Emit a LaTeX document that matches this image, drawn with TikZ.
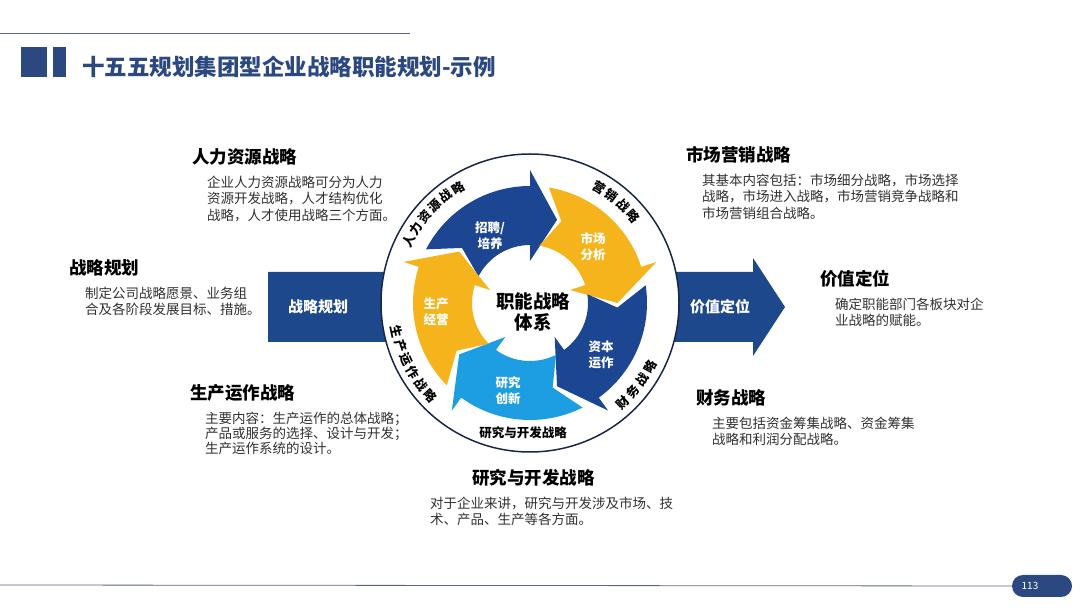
\documentclass[tikz,border=0pt]{standalone}
\usepackage{fontspec}
\setmainfont{Noto Sans CJK SC}
\usepackage{tikz}
\usetikzlibrary{positioning}
\definecolor{navyband}{RGB}{30,72,140}
\definecolor{navyarr}{RGB}{28,70,145}
\definecolor{yellowarr}{RGB}{246,180,28}
\definecolor{lightarr}{RGB}{30,158,226}
\definecolor{titleblue}{RGB}{44,72,128}
\definecolor{ringline}{RGB}{24,38,72}
\definecolor{descgray}{RGB}{48,48,48}
\definecolor{linegray}{RGB}{88,100,128}

% one curved arrow of the cycle, #1 = tail angle, #2 = colour
\newcommand{\cyclearrow}[2]{%
  \pgfmathsetmacro{\ta}{#1-62.7}%
  \pgfmathsetmacro{\tb}{#1-80.7}%
  \pgfmathsetmacro{\tn}{#1-11.7}%
  \fill[#2] (#1:117) arc[start angle=#1, end angle=\ta, radius=117]
    -- (\ta:133) -- (\tb:87.5) -- (\ta:42) -- (\ta:58)
    arc[start angle=\ta, end angle=#1, radius=58] -- (\tn:87.5) -- cycle;}

\begin{document}
\begin{tikzpicture}[
  x=1pt, y=1pt,
  head/.style={anchor=west, inner sep=0pt, text=black,
               font=\bfseries\fontsize{17.5}{20}\selectfont},
  desc/.style={inner sep=0pt, align=left, text=descgray,
               font=\fontsize{13.5}{16.5}\selectfont},
  ringtxt/.style={inner sep=0pt, font=\bfseries\fontsize{12.5}{12.5}\selectfont},
  arrtxt/.style={align=center, inner sep=0pt, text=white,
                 font=\bfseries\fontsize{12.5}{16}\selectfont},
  bandtxt/.style={inner sep=0pt, text=white,
                  font=\bfseries\fontsize{15}{15}\selectfont}
]
\useasboundingbox (0,0) rectangle (1080,608);

% Titel
\draw[linegray, line width=1pt] (0,574) -- (410,574);
\fill[titleblue] (20.5,531) rectangle (46.5,561);
\fill[titleblue] (53,531) rectangle (66,561);
\node[anchor=west, inner sep=0pt, text=titleblue,
      font=\bfseries\fontsize{22.5}{24}\selectfont]
  (title) at (82,541) {十五五规划集团型企业战略职能规划-示例};

% Pfeilband
\fill[navyband] (268,266) -- (268,336) -- (753,336) -- (753,350)
  -- (785,301) -- (753,252) -- (753,266) -- cycle;
\node[bandtxt] (plan) at (318,301) {战略规划};
\node[bandtxt] (value) at (720,301) {价值定位};

% Kreis
\node[circle, draw=ringline, line width=1.5pt, fill=white,
      minimum size=298pt, inner sep=0pt] (ring) at (530,305) {};

\begin{scope}[shift={(ring.center)}]
\cyclearrow{152.7}{navyarr}
\cyclearrow{80.7}{yellowarr}
\cyclearrow{8.7}{navyarr}
\cyclearrow{-63.3}{lightarr}
\cyclearrow{-135.3}{yellowarr}

\foreach \ch [count=\i from 0] in {人,力,资,源,战,略}
  {\pgfmathsetmacro{\a}{153-6.2*\i}
   \node[ringtxt, rotate=\a-90] (hr\i) at (\a:136) {\ch};}
\foreach \ch [count=\i from 0] in {营,销,战,略}
  {\pgfmathsetmacro{\a}{59-6.3*\i}
   \node[ringtxt, rotate=\a-90] (mk\i) at (\a:135) {\ch};}
\foreach \ch [count=\i from 0] in {财,务,战,略}
  {\pgfmathsetmacro{\a}{-47+6.3*\i}
   \node[ringtxt, rotate=\a+90] (fi\i) at (\a:136) {\ch};}
\foreach \ch [count=\i from 0] in {生,产,运,作,战,略}
  {\pgfmathsetmacro{\a}{192+6.2*\i}
   \node[ringtxt, rotate=\a+90] (pr\i) at (\a:136) {\ch};}
\end{scope}
\node[ringtxt] (rdring) at (523,175) {研究与开发战略};

\node[arrtxt] (recruit) at (490,372) {招聘/\\培养};
\node[arrtxt] (market) at (593,361) {市场\\分析};
\node[arrtxt] (capital) at (601,253) {资本\\运作};
\node[arrtxt] (research) at (508,217) {研究\\创新};
\node[arrtxt] (produce) at (436,296) {生产\\经营};
\node[align=center, inner sep=0pt,
      font=\bfseries\fontsize{18.5}{21}\selectfont] (core) at (533,296) {职能战略\\体系};

% Texte
\node[head] (hrhead) at (192,451) {人力资源战略};
\node[desc, below right=10pt and 15pt of hrhead.south west] (hrdesc)
  {企业人力资源战略可分为人力\\资源开发战略，人才结构优化\\战略，人才使用战略三个方面。};

\node[head] (planhead) at (69,340) {战略规划};
\node[desc, below right=10pt and 16pt of planhead.south west] (plandesc)
  {制定公司战略愿景、业务组\\合及各阶段发展目标、措施。};

\node[head] (mkhead) at (686,453) {市场营销战略};
\node[desc, below right=10pt and 16pt of mkhead.south west] (mkdesc)
  {其基本内容包括：市场细分战略，市场选择\\战略，市场进入战略，市场营销竞争战略和\\市场营销组合战略。};

\node[head] (valhead) at (820,329) {价值定位};
\node[desc, below right=10pt and 15pt of valhead.south west] (valdesc)
  {确定职能部门各板块对企\\业战略的赋能。};

\node[head] (prhead) at (190,215) {生产运作战略};
\node[desc, below right=10pt and 15pt of prhead.south west,
      font=\fontsize{13.5}{15}\selectfont] (prdesc)
  {主要内容：生产运作的总体战略；\\产品或服务的选择、设计与开发；\\生产运作系统的设计。};

\node[head] (fihead) at (696,210) {财务战略};
\node[desc, below right=10pt and 16pt of fihead.south west] (fidesc)
  {主要包括资金筹集战略、资金筹集\\战略和利润分配战略。};

\node[head] (rdhead) at (472,130) {研究与开发战略};
\node[desc, below right=10pt and -42pt of rdhead.south west] (rddesc)
  {对于企业来讲，研究与开发涉及市场、技\\术、产品、生产等各方面。};

% Fusszeile
\node[fill=titleblue, rounded corners=11pt, minimum width=60pt,
      minimum height=22pt, inner sep=0pt] (pg) at (1042,22) {};
\node[inner sep=0pt, text=white, font=\fontsize{10}{10}\selectfont]
  (pgnum) at (1030,22) {113};
\draw[linegray, line width=0.8pt] (0,23) -- (pg.west);
\end{tikzpicture}
\end{document}
